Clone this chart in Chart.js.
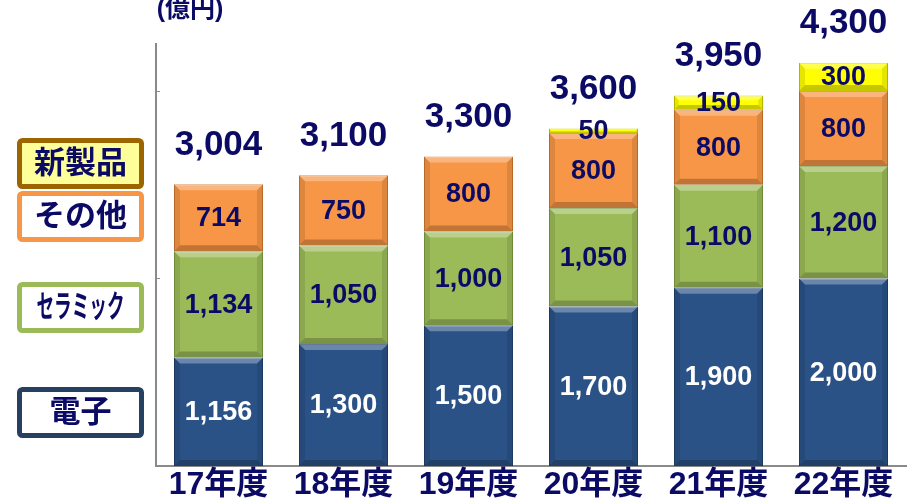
<!DOCTYPE html>
<html>
<head>
<meta charset="utf-8">
<script src="https://cdn.jsdelivr.net/npm/chart.js@4/dist/chart.umd.min.js"></script>
<style>
  html, body { margin: 0; padding: 0; background: #fff; }
  #wrap { width: 916px; height: 504px; }
</style>
</head>
<body>
<div id="wrap"><canvas id="chart"></canvas></div>
<script>
// data (億円)
const years = ['17年度', '18年度', '19年度', '20年度', '21年度', '22年度'];
const denshi = [1156, 1300, 1500, 1700, 1900, 2000];
const ceramic = [1134, 1050, 1000, 1050, 1100, 1200];
const sonota = [714, 750, 800, 800, 800, 800];
const shinseihin = [0, 0, 0, 50, 150, 300];
const totals = [3004, 3100, 3300, 3600, 3950, 4300];
const tickValues = [2000, 4000];
const seriesNames = ['電子', 'セラミック', 'その他', '新製品'];
const unitLabel = '(億円)';

const NAVY = '#0b0b66';
const FONT = '"Liberation Sans", "Noto Sans CJK JP", sans-serif';
const fmt = (v) => v.toLocaleString('en-US');

// bevelled look of the bars
const bevelPlugin = {
  id: 'bevel',
  afterDatasetsDraw(chart) {
    const ctx = chart.ctx;
    chart.data.datasets.forEach((ds, i) => {
      chart.getDatasetMeta(i).data.forEach((bar) => {
        const l = bar.x - bar.width / 2, r = bar.x + bar.width / 2;
        const t = Math.min(bar.y, bar.base), b = Math.max(bar.y, bar.base);
        const h = b - t;
        if (h < 1) return;
        const s = Math.min(6, h / 3);
        ctx.save();
        ctx.fillStyle = 'rgba(255,255,255,0.3)';
        ctx.beginPath();
        ctx.moveTo(l, t); ctx.lineTo(r, t); ctx.lineTo(r - s, t + s); ctx.lineTo(l + s, t + s);
        ctx.fill();
        ctx.fillStyle = 'rgba(0,0,0,0.22)';
        ctx.beginPath();
        ctx.moveTo(l, b); ctx.lineTo(r, b); ctx.lineTo(r - s, b - s); ctx.lineTo(l + s, b - s);
        ctx.fill();
        ctx.fillStyle = 'rgba(0,0,0,0.1)';
        ctx.beginPath();
        ctx.moveTo(l, t); ctx.lineTo(l + s, t + s); ctx.lineTo(l + s, b - s); ctx.lineTo(l, b);
        ctx.moveTo(r, t); ctx.lineTo(r - s, t + s); ctx.lineTo(r - s, b - s); ctx.lineTo(r, b);
        ctx.fill();
        ctx.restore();
      });
    });
  },
};

// segment values, totals, unit and small inner ticks
const labelPlugin = {
  id: 'labels',
  afterDatasetsDraw(chart) {
    const ctx = chart.ctx;
    const yScale = chart.scales.y;
    ctx.save();
    ctx.textAlign = 'center';
    ctx.textBaseline = 'middle';
    ctx.font = 'bold 27px ' + FONT;
    chart.data.datasets.forEach((ds, i) => {
      chart.getDatasetMeta(i).data.forEach((bar, j) => {
        const v = ds.data[j];
        if (!v) return;
        ctx.fillStyle = i === 0 ? '#ffffff' : NAVY;
        ctx.fillText(fmt(v), bar.x, (bar.y + bar.base) / 2 + 1);
      });
    });
    ctx.font = 'bold 35px ' + FONT;
    ctx.fillStyle = NAVY;
    const meta0 = chart.getDatasetMeta(0);
    totals.forEach((t, j) => {
      ctx.fillText(fmt(t), meta0.data[j].x, yScale.getPixelForValue(t) - 39);
    });
    ctx.font = 'bold 25px ' + FONT;
    ctx.fillText(unitLabel, 190, 10);
    // tiny tick marks on the inside of the axis
    const ca = chart.chartArea;
    ctx.strokeStyle = '#8a8a8a';
    ctx.lineWidth = 1;
    tickValues.forEach((tv) => {
      const py = Math.round(yScale.getPixelForValue(tv)) + 0.5;
      ctx.beginPath();
      ctx.moveTo(ca.left, py);
      ctx.lineTo(ca.left + 4, py);
      ctx.stroke();
    });
    ctx.restore();
  },
};

// boxed legend on the left
const legendPlugin = {
  id: 'boxLegend',
  afterDraw(chart) {
    const ctx = chart.ctx;
    const boxes = [
      { name: seriesNames[3], top: 138, border: '#9c6500', fill: '#ffff99' },
      { name: seriesNames[2], top: 191, border: '#f79646', fill: '#ffffff' },
      { name: seriesNames[1], top: 282, border: '#9bbb59', fill: '#ffffff', fitW: 88 },
      { name: seriesNames[0], top: 387, border: '#254061', fill: '#ffffff' },
    ];
    ctx.save();
    boxes.forEach((bx) => {
      const x = 17, w = 127, h = 51;
      ctx.beginPath();
      ctx.roundRect(x + 2.5, bx.top + 2.5, w - 5, h - 5, 3);
      ctx.fillStyle = bx.fill;
      ctx.fill();
      ctx.lineWidth = 5;
      ctx.strokeStyle = bx.border;
      ctx.stroke();
      ctx.font = 'bold 31px ' + FONT;
      ctx.fillStyle = NAVY;
      ctx.textAlign = 'center';
      ctx.textBaseline = 'middle';
      const cx = x + w / 2, cy = bx.top + h / 2 + 1;
      if (bx.fitW) {
        const tw = ctx.measureText(bx.name).width;
        ctx.save();
        ctx.translate(cx, cy);
        ctx.scale(bx.fitW / tw, 1);
        ctx.fillText(bx.name, 0, 0);
        ctx.restore();
      } else {
        ctx.fillText(bx.name, cx, cy);
      }
    });
    ctx.restore();
  },
};

const ctx = document.getElementById('chart').getContext('2d');
new Chart(ctx, {
  type: 'bar',
  data: {
    labels: years,
    datasets: [
      { label: seriesNames[0], data: denshi, backgroundColor: '#2a5286', borderColor: '#1f3f68', borderWidth: 1 },
      { label: seriesNames[1], data: ceramic, backgroundColor: '#9bbb59', borderColor: '#7a9a40', borderWidth: 1 },
      { label: seriesNames[2], data: sonota, backgroundColor: '#f79646', borderColor: '#d0742a', borderWidth: 1 },
      { label: seriesNames[3], data: shinseihin, backgroundColor: '#ffff00', borderColor: '#c8c800', borderWidth: 1 },
    ],
  },
  options: {
    responsive: true,
    maintainAspectRatio: false,
    animation: false,
    layout: { padding: { top: 44, right: 10, left: 0, bottom: 0 } },
    datasets: { bar: { categoryPercentage: 1, barPercentage: 0.712 } },
    plugins: {
      legend: { display: false },
      tooltip: { enabled: false },
    },
    scales: {
      x: {
        stacked: true,
        grid: { display: false, drawTicks: false },
        border: { display: true, color: '#8a8a8a', width: 2 },
        ticks: { color: NAVY, font: { family: FONT, size: 32, weight: 'bold' }, padding: 0 },
        afterFit: (s) => { s.height = 38; },
      },
      y: {
        stacked: true,
        min: 0,
        max: 4500,
        ticks: { display: false },
        grid: { display: false, drawTicks: false },
        border: { display: true, color: '#8a8a8a', width: 2 },
        afterFit: (s) => { s.width = 156; },
      },
    },
  },
  plugins: [bevelPlugin, labelPlugin, legendPlugin],
});
</script>
</body>
</html>
